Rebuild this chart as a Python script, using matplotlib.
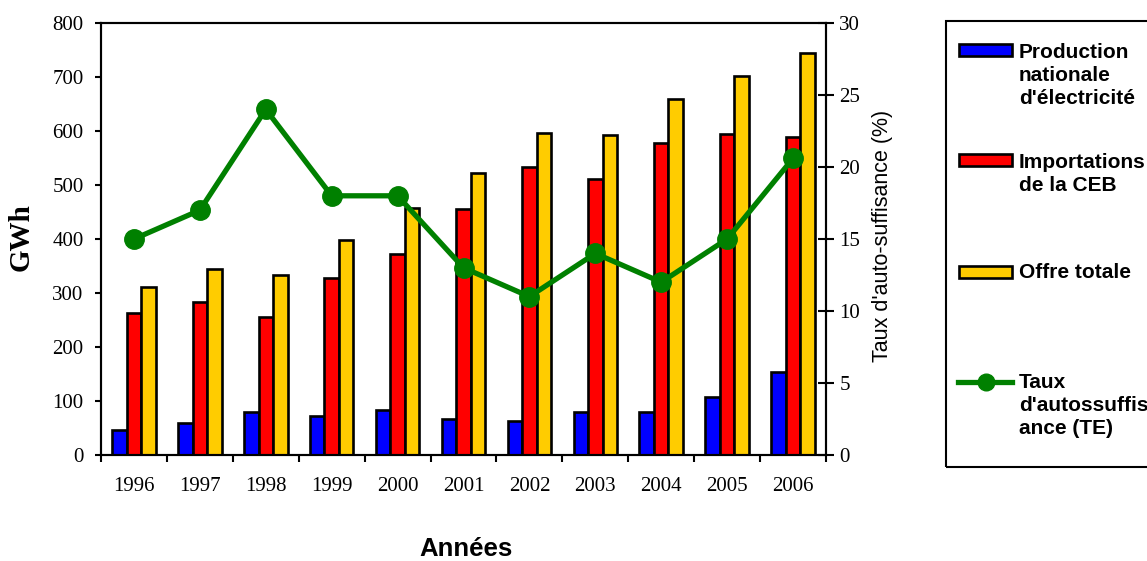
import matplotlib.pyplot as plt
import numpy as np
from matplotlib.patches import Rectangle
from matplotlib.lines import Line2D

annees = ['1996', '1997', '1998', '1999', '2000', '2001', '2002', '2003', '2004', '2005', '2006']
production = [46, 60, 79, 73, 83, 66, 63, 79, 80, 107, 153]
importations = [263, 284, 255, 328, 373, 455, 533, 512, 577, 594, 588]
offre = [311, 344, 333, 398, 457, 522, 596, 593, 659, 702, 744]
taux = [15, 17, 24, 18, 18, 13, 11, 14, 12, 15, 20.6]

W, H = 1147, 561
fig = plt.figure(figsize=(W / 100, H / 100), dpi=100)
ax = fig.add_axes([101 / W, 1 - 455 / H, 725 / W, 432 / H])

x = np.arange(len(annees))
w = 0.22
kw = dict(edgecolor='black', linewidth=1.9)
ax.bar(x - w, production, w, color='#0000ff', **kw)
ax.bar(x, importations, w, color='#ff0000', **kw)
ax.bar(x + w, offre, w, color='#ffcc00', **kw)

ax.set_xlim(-0.5, len(annees) - 0.5)
ax.set_ylim(0, 800)
ax.set_yticks(range(0, 801, 100))
ax.set_xticks(x)
ax.set_xticklabels(annees)
ax.set_xticks(np.arange(-0.5, len(annees), 1), minor=True)
ax.tick_params(axis='x', which='major', length=0, pad=16)
ax.tick_params(axis='x', which='minor', length=5, width=1.5, direction='out')
ax.tick_params(axis='y', length=4.5, width=1.5, direction='out', pad=8)
for lab in ax.get_xticklabels() + ax.get_yticklabels():
    lab.set_fontfamily('Liberation Serif')
    lab.set_fontsize(15)
for s in ax.spines.values():
    s.set_linewidth(1.5)

ax.set_ylabel('GWh', fontsize=21, fontweight='bold', family='Liberation Serif')
ax.yaxis.set_label_coords(-0.092, 0.505)
ax.set_xlabel('Années', fontsize=18.5, fontweight='bold', family='Liberation Sans')
ax.xaxis.set_label_coords(0.503, -0.19)

ax2 = ax.twinx()
ax2.plot(x, taux, color='#008000', lw=3.8, marker='o', ms=14)
ax2.set_ylim(0, 30)
ax2.set_yticks(range(0, 31, 5))
ax2.tick_params(axis='y', length=11, width=1.5, direction='inout', pad=4)
for lab in ax2.get_yticklabels():
    lab.set_fontfamily('Liberation Serif')
    lab.set_fontsize(15)
for s in ax2.spines.values():
    s.set_linewidth(1.5)
ax2.set_ylabel("Taux d'auto-suffisance (%)", fontsize=15.5, family='Liberation Sans')
ax2.yaxis.set_label_coords(1.064, 0.507)

# legend drawn by hand to keep the uneven spacing of the original
def fx(px):
    return px / W

def fy(py):
    return 1 - py / H

fig.patches.append(Rectangle((fx(946), fy(467)), 0.2, fy(21) - fy(467),
                             transform=fig.transFigure, fill=False,
                             edgecolor='black', linewidth=1.5))
items = [
    ('#0000ff', 50, 43, "Production\nnationale\nd'électricité"),
    ('#ff0000', 160, 153, 'Importations\nde la CEB'),
    ('#ffcc00', 272, 263, 'Offre totale'),
]
for col, yc, ytop, txt in items:
    fig.patches.append(Rectangle((fx(959), fy(yc + 6)), fx(1012) - fx(959), fy(yc - 6) - fy(yc + 6),
                                 transform=fig.transFigure, facecolor=col,
                                 edgecolor='black', linewidth=1.9))
    fig.text(fx(1019), fy(ytop), txt, ha='left', va='top', fontsize=15,
             fontweight='bold', family='Liberation Sans', linespacing=1.27)
fig.lines.append(Line2D([fx(958), fx(1012)], [fy(382), fy(382)], transform=fig.transFigure,
                        color='#008000', lw=3.8))
fig.lines.append(Line2D([fx(986)], [fy(382)], transform=fig.transFigure,
                        color='#008000', marker='o', ms=12, linestyle='none'))
fig.text(fx(1019), fy(373), "Taux\nd'autossuffis\nance (TE)", ha='left', va='top', fontsize=15,
         fontweight='bold', family='Liberation Sans', linespacing=1.27)

fig.savefig('out.png', dpi=100)
